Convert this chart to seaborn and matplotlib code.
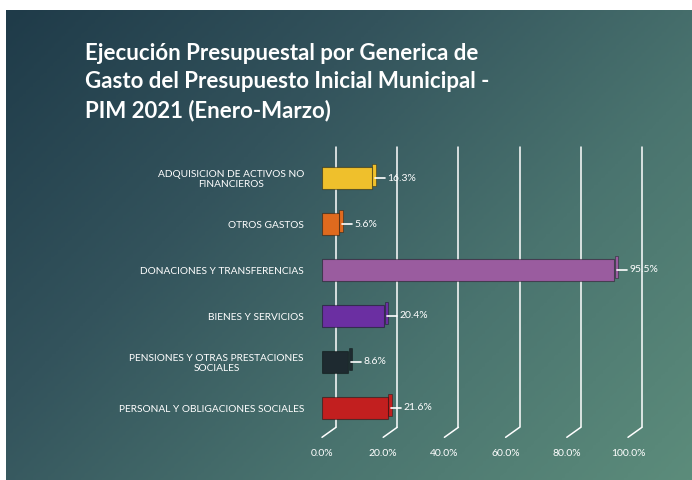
import numpy as np
import pandas as pd
import matplotlib
matplotlib.use("Agg")
import matplotlib.pyplot as plt
import matplotlib.transforms as mtransforms
from matplotlib.colors import LinearSegmentedColormap
import seaborn as sns

# data
categorias = [
    "ADQUISICION DE ACTIVOS NO\nFINANCIEROS",
    "OTROS GASTOS",
    "DONACIONES Y TRANSFERENCIAS",
    "BIENES Y SERVICIOS",
    "PENSIONES Y OTRAS PRESTACIONES\nSOCIALES",
    "PERSONAL Y OBLIGACIONES SOCIALES",
]
ejecucion = [16.3, 5.6, 95.5, 20.4, 8.6, 21.6]
colores = ["#efc02c", "#df6a1e", "#9a5c9f", "#6b2fa2", "#1e2a30", "#c21f1f"]
ticks = [0, 20, 40, 60, 80, 100]

titulo = ("Ejecución Presupuestal por Generica de\n"
          "Gasto del Presupuesto Inicial Municipal -\n"
          "PIM 2021 (Enero-Marzo)")

df = pd.DataFrame({"categoria": categorias, "valor": ejecucion})

sns.set_theme(style="white")
plt.rcParams["font.family"] = ["Lato", "DejaVu Sans"]

W, H = 6.92, 4.8
fig = plt.figure(figsize=(W, H), dpi=100)
fig.patch.set_facecolor("white")

# background gradient panel (white strip on top and left like the slide capture)
bg = fig.add_axes([6 / 692, 0, 1 - 6 / 692, 1 - 10 / 480])
bg.set_axis_off()
cmap = LinearSegmentedColormap.from_list("fondo", ["#1f3b49", "#33535c", "#4a746f", "#5c8c7b"])
gx, gy = np.meshgrid(np.linspace(0, 1, 200), np.linspace(0, 1, 200))
grad = 0.6 * gx + 0.4 * gy
bg.imshow(grad, cmap=cmap, aspect="auto", extent=[0, 1, 0, 1], origin="upper")

fig.text(85 / 692, 1 - 43 / 480, titulo, fontsize=16, fontweight="bold",
         color="white", ha="left", va="top", linespacing=1.42)

ax = fig.add_axes([322 / 692, 1 - 431 / 480, 306 / 692, 276 / 480])
ax.set_facecolor("none")

sns.barplot(data=df, x="valor", y="categoria", hue="categoria", palette=colores,
            orient="h", legend=False, width=0.48, ax=ax, zorder=3, saturation=1,
            edgecolor="#00000066", linewidth=0.8)

ax.set_xlim(0, 100)
ax.set_ylim(5.5, -0.5)

# 3D-ish gridlines: back wall lines shifted right/up with a slanted foot
off = mtransforms.offset_copy(ax.transData, fig=fig, x=14, y=6, units="dots")
for t in ticks:
    ax.plot([t, t], [-0.55, 5.55], color="white", lw=1.1, transform=off,
            clip_on=False, zorder=1)
    xa, ya = ax.transData.transform((t, 5.55))
    pts = np.array([[xa + 14, ya + 6], [xa, ya - 4]]) / fig.dpi
    fig.add_artist(plt.Line2D(pts[:, 0] / W, pts[:, 1] / H, color="white", lw=1.1))

# small dark side face at the end of each bar
side = mtransforms.offset_copy(ax.transData, fig=fig, x=4, y=3, units="dots")
for i, (v, c) in enumerate(zip(ejecucion, colores)):
    ax.barh(i, 1.2, left=v - 1.2, height=0.48, color=c, transform=side,
            zorder=2, linewidth=0.6, edgecolor="#00000066")

for i, v in enumerate(ejecucion):
    ax.plot([v + 1.0, v + 4.2], [i, i], color="white", lw=1.2, zorder=4,
            clip_on=False)
    ax.text(v + 5.0, i, f"{v:.1f}%", color="white", fontsize=7.5,
            va="center", ha="left", clip_on=False, zorder=4)

ax.set_xticks(ticks)
ax.set_xticklabels([f"{t:.1f}%" for t in ticks], color="white", fontsize=7.5)
ax.tick_params(axis="x", length=0, pad=13)
ax.tick_params(axis="y", length=0, pad=13)
for lab in ax.get_yticklabels():
    lab.set_color("white")
    lab.set_fontsize(7.3)
    lab.set_multialignment("center")
ax.set_xlabel("")
ax.set_ylabel("")
for s in ax.spines.values():
    s.set_visible(False)

plt.savefig("out.png", dpi=100)
